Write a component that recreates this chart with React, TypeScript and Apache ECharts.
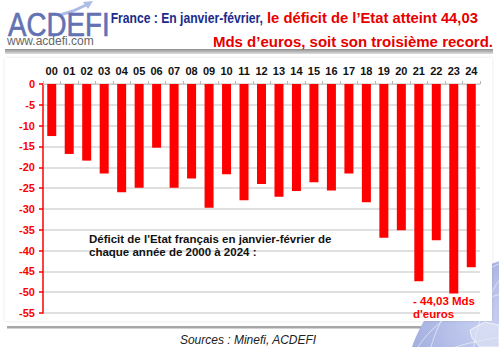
import React, { useEffect, useRef } from "react";
import * as echarts from "echarts";

const years = ["00", "01", "02", "03", "04", "05", "06", "07", "08", "09", "10", "11", "12", "13", "14", "15", "16", "17", "18", "19", "20", "21", "22", "23", "24"];
const deficits = [-12.5, -16.8, -18.4, -21.5, -26.0, -24.9, -15.3, -24.9, -22.7, -29.7, -21.7, -27.9, -24.0, -27.1, -25.7, -23.6, -25.6, -21.5, -28.4, -36.9, -35.1, -47.4, -37.5, -50.3, -44.03];
const yMin = -55;
const yMax = 0;
const yInterval = 5;

const titleBlue = "France : En janvier-février,";
const titleRed1 = "le déficit de l’Etat atteint 44,03";
const titleRed2 = "Mds d’euros, soit son troisième record.";
const noteLines = ["Déficit de l'Etat français en janvier-février de", "chaque année de 2000 à 2024 :"];
const recordLines = ["- 44,03 Mds", "d'euros"];
const sourceText = "Sources : Minefi, ACDEFI";

const FONT = "Arial, 'Liberation Sans', sans-serif";

export default function App() {
  const ref = useRef<HTMLDivElement>(null);
  useEffect(() => {
    if (!ref.current) return;
    const chart = echarts.init(ref.current, null, { renderer: "svg" });
    const option: any = {
      animation: false,
      backgroundColor: "#ffffff",
      grid: { left: 43, right: 19, top: 84, bottom: 34, containLabel: false },
      xAxis: {
        type: "category",
        position: "top",
        data: years,
        boundaryGap: true,
        axisLine: { show: true, lineStyle: { color: "#c8c8c8", width: 1 } },
        axisTick: { show: true, length: 3, lineStyle: { color: "#b8b8b8" } },
        axisLabel: { color: "#111", fontWeight: "bold", fontSize: 11, fontFamily: FONT, margin: 8, interval: 0 },
      },
      yAxis: {
        type: "value",
        min: yMin,
        max: yMax,
        interval: yInterval,
        axisLine: { show: true, lineStyle: { color: "#ff0000", width: 1.5 } },
        axisTick: { show: true, length: 4, lineStyle: { color: "#ff0000", width: 1.5 } },
        axisLabel: { color: "#ff0000", fontWeight: "bold", fontSize: 11, fontFamily: FONT, margin: 8 },
        splitLine: { show: true, lineStyle: { color: "#d6d6d6", width: 1.5 } },
      },
      series: [
        {
          type: "bar",
          data: deficits,
          barWidth: 9,
          itemStyle: { color: "#ff0000" },
          z: 3,
        },
      ],
      graphic: [
        // bottom rule
        { type: "rect", z: -30, shape: { x: 7, y: 326, width: 485, height: 2.5 }, style: { fill: "#a6a6a6" } },
        // globe
        {
          type: "circle",
          z: -20,
          shape: { cx: 540, cy: 390, r: 135 },
          style: {
            fill: new echarts.graphic.RadialGradient(0.3, 0.25, 0.9, [
              { offset: 0, color: "#c9d1f2" },
              { offset: 0.6, color: "#8391cf" },
              { offset: 1, color: "#4b5aa6" },
            ]),
          },
        },
        { type: "ellipse", z: -19, shape: { cx: 540, cy: 390, rx: 70, ry: 135 }, style: { fill: "none", stroke: "rgba(255,255,255,0.55)", lineWidth: 1 } },
        { type: "ellipse", z: -19, shape: { cx: 540, cy: 390, rx: 115, ry: 135 }, style: { fill: "none", stroke: "rgba(255,255,255,0.55)", lineWidth: 1 } },
        { type: "ellipse", z: -19, shape: { cx: 540, cy: 390, rx: 135, ry: 55 }, style: { fill: "none", stroke: "rgba(255,255,255,0.55)", lineWidth: 1 } },
        { type: "ellipse", z: -19, shape: { cx: 540, cy: 390, rx: 135, ry: 100 }, style: { fill: "none", stroke: "rgba(255,255,255,0.55)", lineWidth: 1 } },
        { type: "polygon", z: -18, shape: { points: [[470, 330], [485, 322], [499, 325], [499, 347], [480, 347], [472, 338]] }, style: { fill: "rgba(225,230,245,0.6)", stroke: "rgba(255,255,255,0.7)", lineWidth: 1 } },
        // white plot panel
        { type: "rect", z: -10, shape: { x: 5, y: 58, width: 487, height: 263 }, style: { fill: "#ffffff", shadowBlur: 3, shadowColor: "rgba(0,0,0,0.12)" } },
        // header rule
        {
          type: "rect",
          z: 5,
          shape: { x: 5, y: 49, width: 488, height: 5 },
          style: {
            fill: new echarts.graphic.LinearGradient(0, 0, 0, 1, [
              { offset: 0, color: "#8e8e8e" },
              { offset: 1, color: "#dedede" },
            ]),
          },
        },
        // logo
        { type: "polyline", z: 5, shape: { points: [[60, 15], [73, 11], [86, 5]] }, style: { stroke: "#aebde6", lineWidth: 3, fill: "none" } },
        { type: "polygon", z: 5, shape: { points: [[83, 2], [93, 1], [88, 9]] }, style: { fill: "#aebde6" } },
        {
          type: "text",
          z: 6,
          x: 8,
          y: 24,
          scaleX: 0.84,
          style: { text: "ACDEFI", fill: "#6272b2", font: `33px ${FONT}`, align: "left", verticalAlign: "middle", stroke: "#5565a5", lineWidth: 0.6 },
        },
        { type: "text", z: 6, x: 7, y: 41, style: { text: "www.acdefi.com", fill: "#666666", font: `12px ${FONT}`, align: "left", verticalAlign: "middle" } },
        // title
        { type: "text", z: 6, x: 263, y: 18, scaleX: 0.81, style: { text: titleBlue, fill: "#1a2b8c", font: `bold 15px ${FONT}`, align: "right", verticalAlign: "middle" } },
        { type: "text", z: 6, x: 267, y: 18, scaleX: 0.985, style: { text: titleRed1, fill: "#e60000", font: `bold 15px ${FONT}`, align: "left", verticalAlign: "middle" } },
        { type: "text", z: 6, x: 493, y: 41, style: { text: titleRed2, fill: "#e60000", font: `bold 15px ${FONT}`, align: "right", verticalAlign: "middle" } },
        // note
        { type: "text", z: 6, x: 89, y: 239, style: { text: noteLines[0], fill: "#111", font: `bold 11.5px ${FONT}`, align: "left", verticalAlign: "middle" } },
        { type: "text", z: 6, x: 89, y: 252, style: { text: noteLines[1], fill: "#111", font: `bold 11.5px ${FONT}`, align: "left", verticalAlign: "middle" } },
        // record label
        { type: "text", z: 6, x: 413, y: 301, style: { text: recordLines[0], fill: "#ff0000", font: `bold 11.5px ${FONT}`, align: "left", verticalAlign: "middle" } },
        { type: "text", z: 6, x: 413, y: 314, style: { text: recordLines[1], fill: "#ff0000", font: `bold 11.5px ${FONT}`, align: "left", verticalAlign: "middle" } },
        // sources
        { type: "text", z: 6, x: 248, y: 340, style: { text: sourceText, fill: "#222", font: `italic 12px ${FONT}`, align: "center", verticalAlign: "middle" } },
      ],
    };
    chart.setOption(option);
    return () => chart.dispose();
  }, []);
  return <div ref={ref} style={{ position: "fixed", left: 0, top: 0, width: 499, height: 347 }} />;
}
